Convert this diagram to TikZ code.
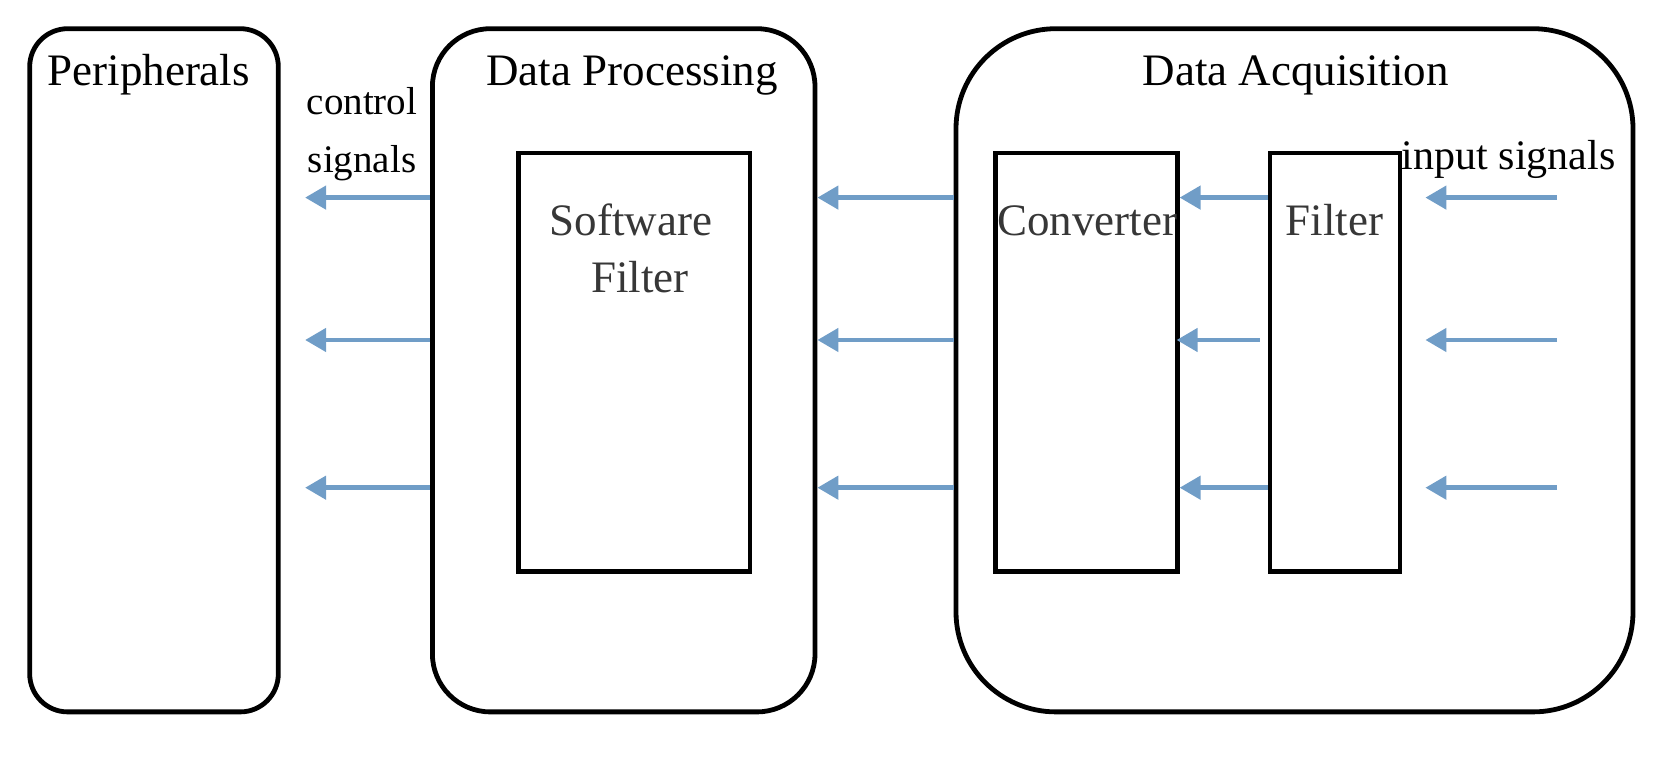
\documentclass[tikz,border=0pt]{standalone}
\usepackage{fontspec}
\setmainfont{Liberation Serif}
\usetikzlibrary{arrows.meta}
\definecolor{arrowblue}{RGB}{112,157,199}
\definecolor{labelgray}{RGB}{55,55,55}
\tikzset{
  outerbox/.style={draw=black,line width=2.4pt,inner sep=0pt},
  innerbox/.style={draw=black,line width=2.4pt,inner sep=0pt,minimum height=209.3pt},
  title/.style={anchor=base,inner sep=0pt,font=\fontsize{22.5}{27}\selectfont},
  lbl/.style={anchor=base,inner sep=0pt,text=labelgray,font=\fontsize{22.5}{27}\selectfont},
  sig/.style={anchor=base,inner sep=0pt,font=\fontsize{19.5}{23}\selectfont},
  flow/.style={draw=arrowblue,line width=2.3pt,-{Triangle[length=10.5pt,width=11.5pt]}},
}
\begin{document}
\begin{tikzpicture}[x=0.5pt,y=-0.5pt]
\useasboundingbox (0,0) rectangle (1666,774);
% outer boxes
\node[outerbox,rounded corners=19pt,minimum width=124.3pt,minimum height=341.6pt] (peri) at (154,370.3) {};
\node[outerbox,rounded corners=29pt,minimum width=191.3pt,minimum height=341.6pt] (dp) at (623.7,370.3) {};
\node[outerbox,rounded corners=50pt,minimum width=338.5pt,minimum height=341.6pt] (da) at (1294.5,370.3) {};
% inner boxes
\node[innerbox,minimum width=115.75pt] (sf) at (634.25,362.3) {};
\node[innerbox,minimum width=90.8pt] (conv) at (1086.4,362.3) {};
\node[innerbox,minimum width=65pt] (filt) at (1335,362.3) {};
% titles
\node[title] (tperi) at (148.75,86) {Peripherals};
\node[title] (tdp) at (632,86) {Data Processing};
\node[title] (tda) at (1295.7,86) {Data Acquisition};
% inner labels
\node[lbl] (lsf1) at (631,236) {Software};
\node[lbl] (lsf2) at (640,293) {Filter};
\node[lbl] (lconv) at (1087,236) {Converter};
\node[lbl] (lfilt) at (1334.5,236) {Filter};
% signal labels
\node[sig] (ctl1) at (362,115) {control};
\node[sig] (ctl2) at (362,173) {signals};
\node[sig,font=\fontsize{21}{25}\selectfont] (inp) at (1508.7,170) {input signals};
% rows
\coordinate (r1) at (0,197.6);
\coordinate (r2) at (0,340);
\coordinate (r3) at (0,487.7);
\coordinate (in1) at (1557,197.6);
\coordinate (in2) at (1557,340);
\coordinate (in3) at (1557,487.7);
% arrows
\foreach \r in {r1,r2,r3}{
  \draw[flow,shorten >=12.2pt] (dp.west |- \r) -- (peri.east |- \r);
  \draw[flow] (da.west |- \r) -- (dp.east |- \r);
}
\draw[flow] (filt.west |- r1) -- (conv.east |- r1);
\draw[flow] ([xshift=-4pt]filt.west |- r2) -- ([xshift=-1.5pt]conv.east |- r2);
\draw[flow] (filt.west |- r3) -- (conv.east |- r3);
\foreach \i in {1,2,3}{
  \draw[flow,shorten >=11.5pt] (in\i) -- (filt.east |- in\i);
}
\end{tikzpicture}
\end{document}
